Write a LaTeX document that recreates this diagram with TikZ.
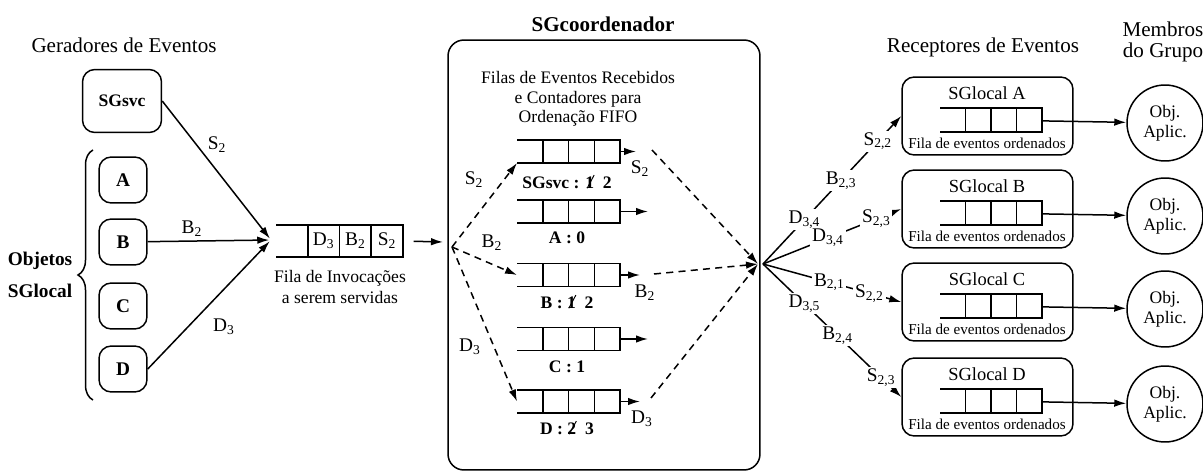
\documentclass[tikz,border=0pt]{standalone}
\usepackage{fontspec}
\setmainfont{Liberation Serif}
\usepackage{graphicx}
\usepackage{tikz}
\usetikzlibrary{calc,arrows.meta,decorations.pathreplacing}
\tikzstyle{connector} = [line width=0.3mm]
\tikzstyle{seta} = [connector, -{Latex[length=2.4mm,width=1.5mm]}]
\tikzstyle{tracejada} = [seta, dash pattern=on 4pt off 3pt]
\tikzstyle{caixa} = [draw, connector, rounded corners=7pt]
\tikzstyle{rotulo} = [font=\fontsize{11}{12}\selectfont, inner sep=1pt]

\newcommand{\fila}[4]{% nome, posicao, largura, altura
  \node (#1) [minimum width=#3, minimum height=#4, inner sep=0pt, outer sep=0pt] at (#2) {};
  \draw [connector] (#1.north west) -- (#1.north east) -- (#1.south east) -- (#1.south west);
  \foreach \cel in {1,2,3}
    \draw [connector] ($(#1.north west)!\cel/4!(#1.north east)$) -- ($(#1.south west)!\cel/4!(#1.south east)$);
}
\newcommand{\riscado}[1]{\makebox[0pt][l]{\kern0.08em\raisebox{0.05ex}{\rotatebox{62}{\rule{0.85em}{0.55pt}}}}#1}

\begin{document}
\begin{tikzpicture}[x=0.02cm, y=-0.02cm, font=\fontsize{10}{11}\selectfont]
\useasboundingbox (0,0) rectangle (1203,476);

% geradores de eventos
\node (titGer) [font=\fontsize{12}{14}\selectfont] at (124,45) {Geradores de Eventos};
\node (sgsvc) [caixa, minimum width=1.58cm, minimum height=1.26cm, font=\bfseries] at (122,101) {SGsvc};
\foreach \nome/\y in {A/180, B/242, C/306, D/369}
  \node (\nome) [caixa, minimum width=0.96cm, minimum height=0.92cm, font=\fontsize{11}{12}\selectfont\bfseries] at (123,\y) {\nome};
\draw [connector, decorate, decoration={brace, amplitude=0.3cm}] (93,400) -- (93,150);
\node (objetos) [align=center, font=\fontsize{11}{18}\selectfont\bfseries] at (40,275) {Objetos\\SGlocal};

\coordinate (entrada) at (271,240);
\draw [seta, shorten >=1pt] (sgsvc.east) -- (entrada);
\draw [seta, shorten >=1pt] (B) -- (entrada);
\draw [seta, shorten >=1pt] (D.east) -- (entrada);
\node (gS2) [rotulo] at (217,145) {S\textsubscript{2}};
\node (gB2) [rotulo] at (192,229) {B\textsubscript{2}};
\node (gD3) [rotulo] at (224,327) {D\textsubscript{3}};

% fila de invocacoes
\fila{filaInv}{339.5,241}{2.54cm}{0.64cm}
\node (iD3) [rotulo] at ($(filaInv.west)!0.375!(filaInv.east)$) {D\textsubscript{3}};
\node (iB2) [rotulo] at ($(filaInv.west)!0.625!(filaInv.east)$) {B\textsubscript{2}};
\node (iS2) [rotulo] at ($(filaInv.west)!0.875!(filaInv.east)$) {S\textsubscript{2}};
\node (txtInv) [align=center, font=\fontsize{10}{11.5}\selectfont] at (340,287) {Fila de Invocações\\a serem servidas};
\coordinate (chegada) at (443,242);
\draw [seta, shorten <=6pt] (filaInv.east) -- (chegada);

% SGcoordenador
\node (coord) [caixa, rounded corners=9pt, minimum width=6.24cm, minimum height=8.6cm] at (604,255) {};
\node (titCoord) [font=\fontsize{12}{14}\selectfont\bfseries] at (603,24) {SGcoordenador};
\node (txtFilas) [align=center] at (578,99) {Filas de Eventos Recebidos\\e Contadores para\\Ordenação FIFO};
\foreach \nome/\y in {q1/151.5, qA/211.5, qB/275, qC/339, qD/401.5}
  {\fila{\nome}{568.5,\y}{2.06cm}{0.46cm}}
\node (cnt1) [font=\bfseries] at (567,182) {SGsvc : \riscado{1}\ \ 2};
\node (cntA) [font=\bfseries] at (567,238) {A : 0};
\node (cntB) [font=\bfseries] at (567,302) {B : \riscado{1}\ \ 2};
\node (cntC) [font=\bfseries] at (567,367) {C : 1};
\node (cntD) [font=\bfseries] at (567,428) {D : \riscado{2}\ \ 3};

\coordinate (fan) at (452,247);
\draw [tracejada] (fan) -- (q1.south west);
\draw [tracejada] (fan) -- (qB.west);
\draw [tracejada] (fan) -- (qD.west);
\node (fS2) [rotulo] at (474,180) {S\textsubscript{2}};
\node (fB2) [rotulo] at (492,243) {B\textsubscript{2}};
\node (fD3) [rotulo] at (470,347) {D\textsubscript{3}};

\coordinate (tS) at (636,151.5);
\coordinate (tA) at (648,211.5);
\coordinate (tB) at (640,275);
\coordinate (tC) at (648,339);
\coordinate (tD) at (640,401.5);
\foreach \q/\t in {q1/tS, qA/tA, qB/tB, qC/tC, qD/tD}
  \draw [seta] (\q) -- (\t);
\node (oS2) [rotulo] at (640,169) {S\textsubscript{2}};
\node (oB2) [rotulo] at (645,293) {B\textsubscript{2}};
\node (oD3) [rotulo] at (642,419) {D\textsubscript{3}};

\coordinate (dS) at (652,150);
\coordinate (dB) at (654,274);
\coordinate (dD) at (651,398);
\coordinate (conv) at (758,264);
\draw [tracejada] (dS) -- (conv);
\draw [tracejada] (dB) -- (conv);
\draw [tracejada] (dD) -- (conv);

% receptores de eventos
\node (titRec) [font=\fontsize{12}{14}\selectfont] at (983,47) {Receptores de Eventos};
\node (titMem) [align=center, font=\fontsize{12}{12}\selectfont] at (1163,42) {Membros\\do Grupo};
\foreach \nome/\topo in {A/77, B/170, C/263, D/358} {
  \node (sgl\nome) [caixa, minimum width=3.42cm, minimum height=1.56cm] at (987.5,\topo+39) {};
  \node (tit\nome) [font=\fontsize{10.5}{12}\selectfont] at (987,\topo+16) {SGlocal \nome};
  \fila{fl\nome}{991,\topo+43}{2.04cm}{0.48cm}
  \node (ord\nome) [font=\fontsize{8.6}{9}\selectfont] at (987,\topo+66) {Fila de eventos ordenados};
  \node (obj\nome) [circle, draw, connector, minimum size=1.52cm, align=center, font=\fontsize{10}{11.4}\selectfont] at (1165,\topo+46) {Obj.\\Aplic.};
  \draw [seta] (fl\nome) -- (obj\nome);
}

\coordinate (saida) at (763,264);
\draw [seta] (saida) -- node[rotulo, pos=0.30, fill=white] (rA1) {D\textsubscript{3,4}}
  node[rotulo, pos=0.565, fill=white] (rA2) {B\textsubscript{2,3}}
  node[rotulo, pos=0.83, fill=white] (rA3) {S\textsubscript{2,2}} (sglA.west);
\draw [seta] (saida) -- node[rotulo, pos=0.47, fill=white] (rB1) {D\textsubscript{3,4}}
  node[rotulo, pos=0.82, fill=white] (rB2) {S\textsubscript{2,3}} (sglB.west);
\draw [seta] (saida) -- node[rotulo, pos=0.48, fill=white] (rC1) {B\textsubscript{2,1}}
  node[rotulo, pos=0.77, fill=white] (rC2) {S\textsubscript{2,2}} (sglC.west);
\draw [seta] (saida) -- node[rotulo, pos=0.30, fill=white] (rD1) {D\textsubscript{3,5}}
  node[rotulo, pos=0.54, fill=white] (rD2) {B\textsubscript{2,4}}
  node[rotulo, pos=0.855, fill=white] (rD3) {S\textsubscript{2,3}} (sglD.west);
\end{tikzpicture}
\end{document}
